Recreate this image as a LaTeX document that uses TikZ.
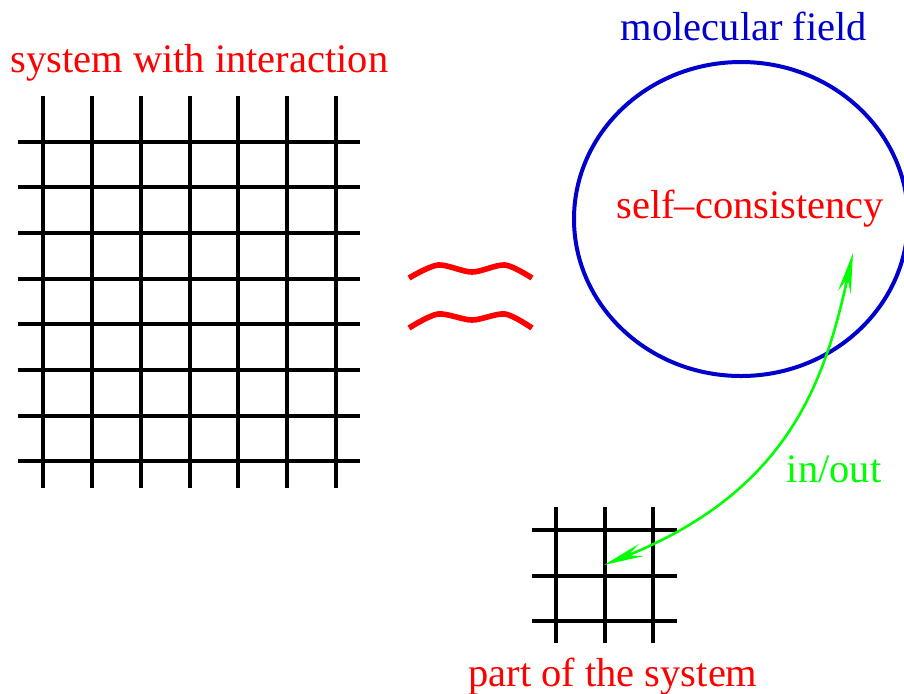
\documentclass[tikz,border=0pt]{standalone}
\usepackage{fontspec}
\setmainfont{Liberation Serif}
\usepackage{tikz}
\usetikzlibrary{arrows.meta,positioning}
\definecolor{lblred}{RGB}{255,0,0}
\definecolor{fieldblue}{RGB}{0,0,204}
\definecolor{iogreen}{RGB}{0,255,0}
\tikzset{
  lbl/.style={anchor=base west,inner sep=0pt,text=#1,font=\rmfamily\fontsize{20.25}{24}\selectfont},
  lbl/.default=lblred,
  gridline/.style={line width=2pt,color=black},
  wave/.style={line width=2.8pt,color=lblred},
  iotip/.tip={Stealth[length=20pt,width=6.5pt,inset=7pt]},
  arr/.style={iotip-iotip,line width=1.3pt,color=iogreen},
}

\begin{document}
\begin{tikzpicture}[x=0.5pt,y=-0.5pt]
    \useasboundingbox (0,0) rectangle (904,693);

    % 大网格
    \foreach \i in {0,...,6}
      \draw[gridline] ({43+48.85*\i},96) -- ({43+48.85*\i},488);
    \foreach \j in {0,...,7}
      \draw[gridline] (18,{141.7+45.66*\j}) -- (360,{141.7+45.66*\j});

    % 小网格
    \foreach \i in {0,1,2}
      \draw[gridline] ({556+48.7*\i},507) -- ({556+48.7*\i},643);
    \foreach \j in {0,1,2}
      \draw[gridline] (532,{530+45.5*\j}) -- (677,{530+45.5*\j});

    % 约等号
    \draw[wave] plot[smooth] coordinates {(409,278) (438,265) (472,272) (505,265) (532,278)};
    \draw[wave] plot[smooth] coordinates {(409,328) (438,314) (472,320) (505,314) (532,328)};

    % 分子场
    \draw[fieldblue,line width=2pt] (741,219) ellipse [x radius=167,y radius=157];

    \node[lbl] (sys) at (10,72.7) {system with interaction};
    \node[lbl=fieldblue] (mf) at (620.5,40) {molecular field};
    \node[lbl] (sc) at (616,218) {self–consistency};
    \node[lbl] (part) at (468,686.5) {part of the system};
    \node[lbl=iogreen] (io) at (786.5,482) {in/out};

    \coordinate (cell) at (604,565);
    \coordinate (field) at (853,253);

    % 连线
    \draw[arr] (cell) .. controls (790,490) and (825,380) .. (field);
\end{tikzpicture}
\end{document}
